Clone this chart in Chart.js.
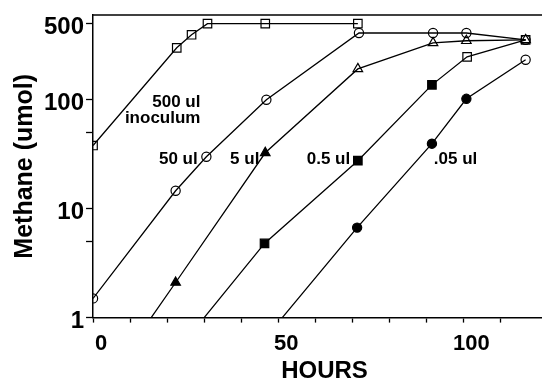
<!DOCTYPE html>
<html>
<head>
<meta charset="utf-8">
<script src="https://cdn.jsdelivr.net/npm/chart.js@4/dist/chart.umd.min.js"></script>
<style>
  html, body { margin: 0; padding: 0; background: #fff; overflow: hidden; }
  #methaneChart { display: block; }
</style>
</head>
<body>
<canvas id="methaneChart" width="566" height="379"></canvas>
<script>
const ctx = document.getElementById('methaneChart').getContext('2d');

// Values (hours vs umol methane, log scale)
const hours500 = [0, 22.6, 26.6, 30.9, 46.5, 71.5];
const methane500 = [38, 300, 395, 500, 500, 500];
const solid500 = [false, false, false, false, false, false];

const hours50 = [0, 22.3, 30.6, 46.8, 71.8, 91.8, 100.8, 116.8];
const methane50 = [1.5, 14.6, 30, 100, 410, 410, 410, 355];
const solid50 = [false, false, false, false, false, false, false, false];

// first entry of the next three is where the line leaves the x axis (no marker)
const hours5 = [15.7, 22.3, 46.5, 71.5, 91.8, 100.8, 116.8];
const methane5 = [1, 2.1, 32.6, 192, 333, 348, 355];
const solid5 = [null, true, true, false, false, false, false];

const hours05 = [30.0, 46.3, 71.5, 91.5, 101, 116.8];
const methane05 = [1, 4.8, 27.6, 137, 248, 355];
const solid05 = [null, true, true, true, false, false];

const hours005 = [51.1, 71.3, 91.5, 100.8, 116.8];
const methane005 = [1, 6.7, 39.5, 102, 233];
const solid005 = [null, true, true, true, false];

const yTickValues = [1, 5, 10, 50, 100, 500];
const yTickLabels = [1, 10, 100, 500];

// in-plot labels: [text, hours, umol, align]
const seriesLabels = [
    ['500 ul', 29.0, 94, 'right'],
    ['inoculum', 29.0, 68, 'right'],
    ['50 ul', 17.8, 28.2, 'left'],
    ['5 ul', 37.0, 28.2, 'left'],
    ['0.5 ul', 57.7, 28.2, 'left'],
    ['.05 ul', 92.0, 28.2, 'left']
];

const FONT = "'Liberation Sans', Arial, Helvetica, sans-serif";

function makeSeries(label, xs, ys, solid, style, radius) {
    return {
        label: label,
        data: xs.map((x, i) => ({ x: x, y: ys[i] })),
        borderColor: '#000',
        borderWidth: 1.3,
        tension: 0,
        fill: false,
        pointStyle: style,
        pointRadius: solid.map(s => s === null ? 0 : radius),
        pointBackgroundColor: solid.map(s => s ? '#000' : 'rgba(0,0,0,0)'),
        pointBorderColor: '#000',
        pointBorderWidth: 1.2
    };
}

const topFrame = {
    id: 'topFrame',
    afterDraw(chart) {
        const a = chart.chartArea;
        const c = chart.ctx;
        c.save();
        c.strokeStyle = '#000';
        c.lineWidth = 1.5;
        c.beginPath();
        c.moveTo(a.left, a.top);
        c.lineTo(a.right, a.top);
        c.stroke();
        c.restore();
    }
};

const seriesText = {
    id: 'seriesText',
    afterDraw(chart) {
        const c = chart.ctx;
        const xs = chart.scales.x, ys = chart.scales.y;
        c.save();
        c.fillStyle = '#000';
        c.font = 'bold 17px ' + FONT;
        c.textBaseline = 'middle';
        seriesLabels.forEach(l => {
            c.textAlign = l[3];
            c.fillText(l[0], xs.getPixelForValue(l[1]), ys.getPixelForValue(l[2]));
        });
        c.restore();
    }
};

let chart = new Chart(ctx, {
    type: 'line',
    data: {
        datasets: [
            makeSeries('500 ul', hours500, methane500, solid500, 'rect', 6),
            makeSeries('50 ul', hours50, methane50, solid50, 'circle', 4.6),
            makeSeries('5 ul', hours5, methane5, solid5, 'triangle', 5.5),
            makeSeries('0.5 ul', hours05, methane05, solid05, 'rect', 6),
            makeSeries('.05 ul', hours005, methane005, solid005, 'circle', 4.6)
        ]
    },
    options: {
        responsive: false,
        animation: false,
        layout: { padding: { left: 13, top: 15, right: 3, bottom: 0 } },
        plugins: {
            legend: { display: false },
            tooltip: { enabled: false }
        },
        scales: {
            x: {
                type: 'linear',
                min: 0,
                max: 125,
                border: { color: '#000', width: 1.5 },
                grid: { drawOnChartArea: false, drawTicks: true, tickLength: 5, color: '#000', tickWidth: 1.3 },
                ticks: {
                    stepSize: 10,
                    autoSkip: false,
                    maxRotation: 0,
                    labelOffset: 8,
                    padding: 10,
                    color: '#000',
                    font: { family: FONT, size: 22, weight: 'bold', lineHeight: 1 },
                    callback: v => (v % 50 === 0 && v <= 100) ? String(v) : ''
                },
                title: {
                    display: true,
                    text: 'HOURS',
                    color: '#000',
                    font: { family: FONT, size: 24, weight: 'bold', lineHeight: 0.6 },
                    padding: { top: 0, bottom: 0 }
                }
            },
            y: {
                type: 'logarithmic',
                min: 1,
                max: 600,
                afterBuildTicks: scale => {
                    scale.ticks = yTickValues.map(v => ({ value: v }));
                },
                border: { color: '#000', width: 1.5 },
                grid: { drawOnChartArea: false, drawTicks: true, tickLength: 7, color: '#000', tickWidth: 1.3 },
                ticks: {
                    autoSkip: false,
                    padding: 2,
                    labelOffset: 4,
                    color: '#000',
                    font: { family: FONT, size: 24, weight: 'bold', lineHeight: 1 },
                    callback: v => yTickLabels.includes(v) ? String(v) : ''
                },
                title: {
                    display: true,
                    text: 'Methane (umol)',
                    color: '#000',
                    font: { family: FONT, size: 25, weight: 'bold', lineHeight: 1 },
                    padding: { top: 0, bottom: 4 }
                }
            }
        }
    },
    plugins: [topFrame, seriesText]
});
</script>
</body>
</html>
